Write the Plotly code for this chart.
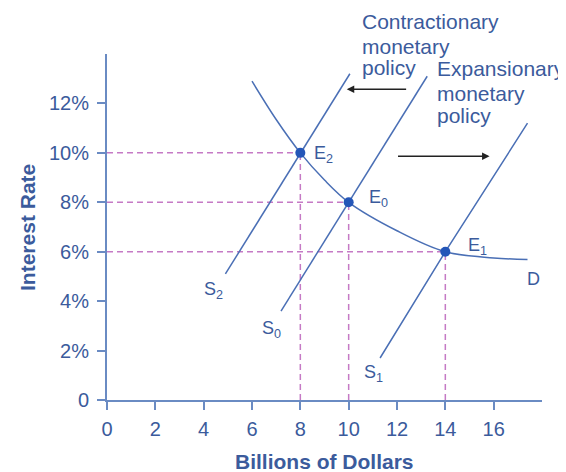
import plotly.graph_objects as go

# ---- data ----
x_ticks = [0, 2, 4, 6, 8, 10, 12, 14, 16]
y_ticks = [0, 2, 4, 6, 8, 10, 12]
y_tick_labels = ["0", "2%", "4%", "6%", "8%", "10%", "12%"]

D_x = [6.0, 7.0, 8.0, 9.0, 10.0, 12.0, 14.0, 16.0, 17.4]
D_y = [12.9, 11.35, 10.0, 8.9, 8.0, 6.85, 6.0, 5.75, 5.68]

S2_x = [4.9, 8.0, 10.05]
S2_y = [5.1, 10.0, 13.2]
S0_x = [7.2, 10.0, 13.25]
S0_y = [3.6, 8.0, 13.1]
S1_x = [11.3, 14.0, 17.4]
S1_y = [1.7, 6.0, 11.2]

eq_names = ["E2", "E0", "E1"]
eq_x = [8, 10, 14]
eq_y = [10, 8, 6]

contr_lines = ["Contractionary", "monetary", "policy"]
expan_lines = ["Expansionary", "monetary", "policy"]

LINE = "#4a6fb5"
TEXT = "#3b5b9c"
AXIS = "#6a8bc3"
DASH = "#c57ac5"
MARK = "#2456b8"
FONT = "Liberation Sans, Arial, sans-serif"

fig = go.Figure()

# dashed guides
for ex, ey in zip(eq_x, eq_y):
    fig.add_trace(go.Scatter(x=[0, ex], y=[ey, ey], mode="lines",
                             line=dict(color=DASH, width=1.5, dash="6px,4px"),
                             hoverinfo="skip", showlegend=False))
    fig.add_trace(go.Scatter(x=[ex, ex], y=[0, ey], mode="lines",
                             line=dict(color=DASH, width=1.5, dash="6px,4px"),
                             hoverinfo="skip", showlegend=False))

fig.add_trace(go.Scatter(x=D_x, y=D_y, mode="lines", line=dict(color=LINE, width=1.5, shape="spline", smoothing=1.0), showlegend=False))
for sx, sy in [(S2_x, S2_y), (S0_x, S0_y), (S1_x, S1_y)]:
    fig.add_trace(go.Scatter(x=sx, y=sy, mode="lines", line=dict(color=LINE, width=1.5), showlegend=False))

fig.add_trace(go.Scatter(x=eq_x, y=eq_y, mode="markers",
                         marker=dict(color=MARK, size=10), showlegend=False))

labels = [
    ("E<sub>2</sub>", 8.5, 9.95),
    ("E<sub>0</sub>", 10.75, 8.15),
    ("E<sub>1</sub>", 14.85, 6.2),
    ("S<sub>2</sub>", 3.95, 4.42),
    ("S<sub>0</sub>", 6.35, 2.87),
    ("S<sub>1</sub>", 10.56, 1.07),
    ("D", 17.3, 4.9),
]
for t, lx, ly in labels:
    fig.add_annotation(x=lx, y=ly, text=t, showarrow=False, xanchor="left", yanchor="middle",
                       font=dict(family=FONT, size=18, color=TEXT))

# policy texts, one annotation per line (paper coords)
contr_y = [1.1342, 1.0621, 0.9986]
expan_y = [0.9957, 0.9235, 0.8600]
for t, py in zip(contr_lines, contr_y):
    fig.add_annotation(x=0.582, y=py, xref="paper", yref="paper", text=t, showarrow=False,
                       xanchor="left", yanchor="top", font=dict(family=FONT, size=21, color=TEXT))
for t, py in zip(expan_lines, expan_y):
    fig.add_annotation(x=0.754, y=py, xref="paper", yref="paper", text=t, showarrow=False,
                       xanchor="left", yanchor="top", font=dict(family=FONT, size=21, color=TEXT))

# arrows
fig.add_annotation(x=9.92, y=12.57, ax=12.44, ay=12.57, axref="x", ayref="y", xref="x", yref="y",
                   text="", showarrow=True, arrowhead=2, arrowsize=1, arrowwidth=1.5, arrowcolor="#222222")
fig.add_annotation(x=15.83, y=9.86, ax=11.98, ay=9.86, axref="x", ayref="y", xref="x", yref="y",
                   text="", showarrow=True, arrowhead=2, arrowsize=1, arrowwidth=1.5, arrowcolor="#222222")

# axis titles
fig.add_annotation(x=0.5, y=-0.179, xref="paper", yref="paper", text="<b>Billions of Dollars</b>",
                   showarrow=False, xanchor="center", yanchor="middle",
                   font=dict(family=FONT, size=21, color=TEXT))
fig.add_annotation(x=-0.184, y=0.5, xref="paper", yref="paper", text="<b>Interest Rate</b>",
                   showarrow=False, xanchor="center", yanchor="middle", textangle=-90,
                   font=dict(family=FONT, size=21, color=TEXT))

# page body has an 8px default margin; size the figure to fill the rest of the window
fig.update_layout(
    width=558, height=464,
    margin=dict(l=99, r=24, t=46, b=72),
    plot_bgcolor="white", paper_bgcolor="white",
    xaxis=dict(range=[0, 18], tickvals=x_ticks, showgrid=False, zeroline=False,
               showline=True, linecolor=AXIS, linewidth=2, ticks="outside", ticklen=8,
               tickcolor=AXIS, tickwidth=2, ticklabelstandoff=2,
               tickfont=dict(family=FONT, size=20, color=TEXT)),
    yaxis=dict(range=[0, 14], tickvals=y_ticks, ticktext=y_tick_labels, showgrid=False, zeroline=False,
               showline=True, linecolor=AXIS, linewidth=2, ticks="outside", ticklen=8,
               tickcolor=AXIS, tickwidth=2, ticklabelstandoff=4,
               tickfont=dict(family=FONT, size=20, color=TEXT)),
)

fig.write_html("out.html")
